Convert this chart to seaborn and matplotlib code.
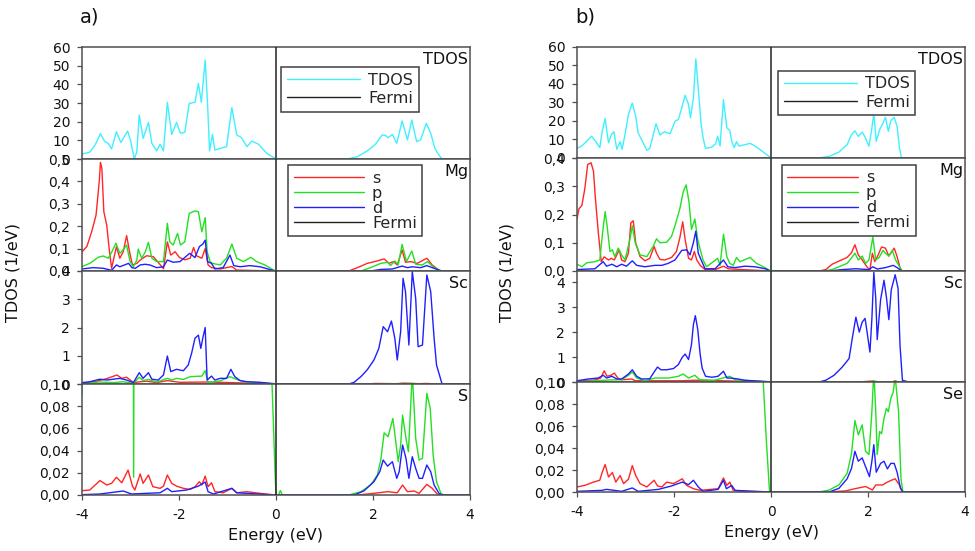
import matplotlib
matplotlib.use("Agg")
import matplotlib.pyplot as plt
import seaborn as sns
import pandas as pd
from matplotlib.lines import Line2D

# ---------------- data: (energy eV, DOS) pairs ----------------
# Panel a)
A_TDOS = [(-4.00,2.7),(-3.84,3.6),(-3.73,7.5),(-3.62,13.6),(-3.53,9.3),(-3.46,8.4),(-3.39,5.4),(-3.29,14.6),
          (-3.20,8.8),(-3.06,15.0),(-3.00,10.0),(-2.92,0.0),(-2.87,3.9),(-2.82,23.6),(-2.74,11.0),(-2.63,19.6),
          (-2.56,8.4),(-2.46,4.3),(-2.39,7.9),(-2.32,4.3),(-2.24,30.4),(-2.15,13.2),(-2.05,19.6),(-1.97,13.8),
          (-1.88,14.3),(-1.79,29.8),(-1.67,30.4),(-1.60,40.5),(-1.54,30.4),(-1.46,53.0),(-1.41,29.0),(-1.37,4.3),
          (-1.31,13.2),(-1.26,4.8),(-1.15,5.7),(-1.02,6.6),(-0.91,27.5),(-0.81,12.9),(-0.71,11.4),(-0.60,6.6),
          (-0.50,9.6),(-0.36,7.9),(-0.19,3.0),(-0.02,0.4),(0.00,0.0),
          (1.47,0.0),(1.68,1.25),(1.88,4.3),(2.05,7.9),(2.19,12.9),(2.26,12.6),(2.31,11.4),(2.40,13.2),(2.49,8.4),
          (2.60,20.4),(2.71,10.2),(2.80,20.9),(2.90,9.3),(2.98,10.2),(3.10,19.1),(3.19,13.8),(3.28,5.4),(3.36,2.1),
          (3.43,0.0),(4.00,0.0)]
A_MG_S = [(-4.00,0.086),(-3.90,0.109),(-3.80,0.176),(-3.71,0.25),(-3.64,0.41),(-3.62,0.485),(-3.59,0.458),
          (-3.55,0.265),(-3.49,0.205),(-3.44,0.10),(-3.39,0.012),(-3.32,0.08),(-3.29,0.108),(-3.22,0.057),
          (-3.15,0.086),(-3.08,0.158),(-3.02,0.086),(-2.96,0.027),(-2.87,0.034),(-2.80,0.049),(-2.67,0.068),
          (-2.53,0.064),(-2.43,0.039),(-2.32,0.010),(-2.24,0.13),(-2.17,0.071),(-2.08,0.086),(-1.99,0.06),
          (-1.88,0.05),(-1.77,0.057),(-1.70,0.105),(-1.64,0.068),(-1.53,0.057),(-1.46,0.10),(-1.40,0.027),
          (-1.33,0.015),(-1.15,0.009),(-1.02,0.015),(-0.91,0.02),(-0.81,0.004),(-0.02,0.0),(0.00,0.0),
          (1.50,0.0),(1.68,0.015),(1.88,0.034),(2.09,0.045),(2.23,0.054),(2.33,0.034),(2.42,0.042),(2.50,0.027),
          (2.60,0.094),(2.67,0.039),(2.78,0.042),(2.91,0.034),(3.11,0.057),(3.22,0.027),(3.36,0.004),(3.43,0.0),
          (4.00,0.0)]
A_MG_P = [(-4.00,0.02),(-3.84,0.034),(-3.66,0.062),(-3.56,0.067),(-3.46,0.057),(-3.39,0.083),(-3.30,0.124),
          (-3.22,0.079),(-3.15,0.095),(-3.08,0.116),(-3.01,0.042),(-2.94,0.019),(-2.87,0.049),(-2.84,0.098),
          (-2.77,0.057),(-2.70,0.083),(-2.63,0.128),(-2.56,0.057),(-2.46,0.042),(-2.32,0.042),(-2.24,0.213),
          (-2.19,0.13),(-2.12,0.116),(-2.03,0.168),(-1.97,0.116),(-1.88,0.13),(-1.79,0.257),(-1.67,0.268),
          (-1.60,0.265),(-1.53,0.175),(-1.46,0.238),(-1.42,0.086),(-1.36,0.042),(-1.31,0.034),(-1.15,0.027),
          (-1.02,0.057),(-0.91,0.12),(-0.81,0.057),(-0.67,0.042),(-0.52,0.061),(-0.40,0.042),(-0.23,0.027),
          (-0.02,0.001),(0.00,0.0),
          (1.75,0.0),(1.95,0.015),(2.16,0.034),(2.30,0.039),(2.36,0.024),(2.45,0.045),(2.52,0.027),(2.60,0.119),
          (2.69,0.042),(2.80,0.089),(2.88,0.030),(3.02,0.027),(3.12,0.042),(3.24,0.019),(3.40,0.001),(4.00,0.0)]
A_MG_D = [(-4.00,0.009),(-3.77,0.015),(-3.56,0.012),(-3.39,0.003),(-3.29,0.027),(-3.22,0.019),(-3.04,0.034),
          (-2.97,0.015),(-2.90,0.012),(-2.80,0.027),(-2.70,0.030),(-2.60,0.027),(-2.46,0.015),(-2.32,0.019),
          (-2.24,0.049),(-2.12,0.039),(-1.98,0.042),(-1.78,0.079),(-1.67,0.06),(-1.58,0.109),(-1.51,0.12),
          (-1.46,0.138),(-1.41,0.042),(-1.33,0.034),(-1.26,0.009),(-1.09,0.015),(-0.95,0.071),(-0.87,0.024),
          (-0.74,0.019),(-0.54,0.024),(-0.33,0.019),(-0.02,0.0),(0.00,0.0),
          (1.95,0.0),(2.16,0.007),(2.40,0.009),(2.60,0.022),(2.71,0.015),(2.81,0.019),(2.98,0.015),(3.11,0.024),
          (3.26,0.012),(3.40,0.0),(4.00,0.0)]
A_SC_S = [(-4.00,0.02),(-3.70,0.10),(-3.49,0.19),(-3.28,0.32),(-3.18,0.20),(-3.08,0.24),(-2.94,0.05),(-2.80,0.08),
          (-2.67,0.10),(-2.46,0.05),(-2.24,0.12),(-1.98,0.06),(-1.42,0.07),(-0.95,0.05),(-0.02,0.0),(0.00,0.0),
          (1.90,0.0),(2.05,0.02),(2.50,0.01),(2.62,0.03),(2.95,0.01),(3.10,0.02),(3.30,0.0),(4.00,0.0)]
A_SC_P = [(-4.00,0.02),(-3.63,0.07),(-3.35,0.05),(-3.15,0.08),(-2.94,0.02),(-2.82,0.24),(-2.74,0.12),(-2.63,0.16),
          (-2.46,0.07),(-2.24,0.20),(-2.15,0.14),(-2.05,0.20),(-1.91,0.16),(-1.77,0.26),(-1.53,0.28),(-1.46,0.47),
          (-1.40,0.05),(-1.15,0.11),(-0.95,0.26),(-0.81,0.16),(-0.67,0.09),(-0.02,0.0),(0.00,0.0),
          (2.00,0.0),(2.80,0.02),(3.00,0.0),(4.00,0.0)]
A_SC_D = [(-4.00,0.05),(-3.84,0.08),(-3.63,0.17),(-3.49,0.14),(-3.35,0.17),(-3.22,0.20),(-3.08,0.14),(-2.94,0.05),
          (-2.82,0.40),(-2.74,0.20),(-2.63,0.40),(-2.56,0.17),(-2.43,0.14),(-2.32,0.32),(-2.24,0.99),(-2.17,0.44),
          (-2.05,0.52),(-1.91,0.47),(-1.81,0.67),(-1.74,1.09),(-1.67,1.62),(-1.60,1.73),(-1.55,1.26),(-1.51,1.62),
          (-1.46,2.00),(-1.42,0.14),(-1.33,0.28),(-1.26,0.14),(-1.15,0.20),(-1.02,0.20),(-0.93,0.52),(-0.85,0.26),
          (-0.74,0.12),(-0.60,0.08),(-0.33,0.06),(-0.02,0.01),(0.00,0.0),
          (1.50,0.0),(1.61,0.06),(1.75,0.26),(1.88,0.50),(2.02,0.85),(2.12,1.26),(2.21,2.03),(2.30,1.85),(2.38,2.23),
          (2.45,1.62),(2.50,0.85),(2.57,1.85),(2.62,3.74),(2.67,3.27),(2.74,1.38),(2.81,3.98),(2.88,3.03),(2.93,1.32),
          (3.02,1.38),(3.11,3.86),(3.19,3.27),(3.26,1.62),(3.31,0.67),(3.38,0.26),(3.42,0.02),(3.46,0.0),(4.00,0.0)]
A_X_S = [(-4.00,0.0039),(-3.84,0.0045),(-3.63,0.013),(-3.49,0.009),(-3.39,0.0105),(-3.29,0.016),(-3.18,0.011),
         (-3.05,0.0225),(-2.96,0.008),(-2.91,0.0045),(-2.80,0.019),(-2.74,0.0105),(-2.63,0.018),(-2.54,0.0075),
         (-2.39,0.006),(-2.32,0.008),(-2.24,0.018),(-2.15,0.0105),(-2.05,0.008),(-1.91,0.006),(-1.77,0.005),
         (-1.67,0.0075),(-1.58,0.012),(-1.53,0.009),(-1.46,0.017),(-1.40,0.0075),(-1.33,0.011),(-1.26,0.003),
         (-1.09,0.002),(-0.91,0.006),(-0.81,0.002),(-0.60,0.003),(-0.33,0.0015),(-0.02,0.0),(0.00,0.0),
         (1.68,0.0),(2.02,0.0015),(2.30,0.003),(2.50,0.002),(2.61,0.009),(2.71,0.003),(2.85,0.0036),(2.95,0.0015),
         (3.11,0.0096),(3.22,0.006),(3.33,0.0006),(3.40,0.0),(4.00,0.0)]
A_X_P = [(-4.00,0.09),(-3.98,0.30),(-2.95,0.30),(-2.935,0.016),(-2.92,0.30),(-0.12,0.30),(-0.09,0.11),(-0.05,0.06),
         (-0.02,0.02),(0.00,0.0),(0.05,0.0),(0.09,0.004),(0.13,0.0),
         (1.50,0.0),(1.75,0.003),(1.95,0.009),(2.09,0.018),(2.16,0.0315),(2.23,0.056),(2.31,0.0525),(2.41,0.069),
         (2.47,0.048),(2.52,0.030),(2.57,0.045),(2.61,0.072),(2.68,0.051),(2.73,0.039),(2.81,0.11),(2.88,0.051),
         (2.95,0.0315),(3.02,0.033),(3.11,0.0916),(3.18,0.078),(3.24,0.036),(3.31,0.012),(3.40,0.0015),(3.46,0.0),
         (4.00,0.0)]
A_X_D = [(-4.00,0.0003),(-3.63,0.0009),(-3.15,0.0036),(-2.98,0.0009),(-2.67,0.0015),(-2.39,0.002),(-2.24,0.006),
         (-2.15,0.003),(-1.84,0.0045),(-1.60,0.008),(-1.46,0.0117),(-1.40,0.003),(-1.29,0.0009),(-0.91,0.006),
         (-0.81,0.002),(-0.02,0.0),(0.00,0.0),
         (1.61,0.0),(1.81,0.0036),(2.02,0.012),(2.14,0.021),(2.21,0.0315),(2.30,0.026),(2.40,0.030),(2.49,0.015),
         (2.54,0.021),(2.61,0.045),(2.68,0.033),(2.74,0.015),(2.81,0.0345),(2.88,0.024),(2.95,0.015),(3.02,0.015),
         (3.11,0.027),(3.19,0.021),(3.26,0.009),(3.36,0.0015),(3.43,0.0),(4.00,0.0)]

# Panel b)
B_TDOS = [(-4.00,5.2),(-3.90,6.5),(-3.80,9.1),(-3.70,11.8),(-3.62,9.1),(-3.53,5.6),(-3.48,14.5),(-3.42,21.3),
          (-3.35,8.2),(-3.29,12.7),(-3.24,14.2),(-3.18,4.7),(-3.11,8.8),(-3.07,4.7),(-3.01,12.7),(-2.94,23.5),
          (-2.86,29.7),(-2.79,22.6),(-2.74,13.6),(-2.67,10.0),(-2.56,4.1),(-2.50,5.2),(-2.37,18.5),(-2.29,12.4),
          (-2.20,14.2),(-2.08,13.1),(-1.98,19.9),(-1.91,20.8),(-1.84,27.1),(-1.77,33.9),(-1.70,28.9),(-1.66,21.7),
          (-1.60,32.4),(-1.55,53.6),(-1.50,37.8),(-1.44,18.1),(-1.40,10.9),(-1.35,5.2),(-1.22,5.9),(-1.14,7.7),
          (-1.10,11.8),(-1.05,6.5),(-0.98,31.5),(-0.91,16.3),(-0.85,14.9),(-0.81,9.1),(-0.76,5.6),(-0.71,8.8),
          (-0.66,6.5),(-0.57,7.0),(-0.43,7.9),(-0.33,6.5),(-0.19,3.8),(-0.02,0.5),(0.00,0.0),
          (0.99,0.0),(1.20,0.9),(1.40,3.2),(1.57,7.2),(1.66,12.6),(1.73,14.7),(1.80,11.7),(1.88,14.0),(1.95,10.8),
          (2.02,6.3),(2.08,16.2),(2.12,24.0),(2.17,9.0),(2.24,15.3),(2.31,18.9),(2.36,22.0),(2.42,14.4),(2.47,20.1),
          (2.54,22.0),(2.60,17.0),(2.65,5.4),(2.69,0.0),(4.00,0.0)]
B_MG_S = [(-4.00,0.184),(-3.96,0.22),(-3.90,0.232),(-3.84,0.29),(-3.78,0.377),(-3.71,0.383),(-3.66,0.353),
          (-3.62,0.256),(-3.56,0.135),(-3.50,0.033),(-3.44,0.05),(-3.35,0.039),(-3.29,0.045),(-3.23,0.039),
          (-3.13,0.075),(-3.08,0.039),(-3.01,0.033),(-2.94,0.063),(-2.89,0.17),(-2.84,0.178),(-2.79,0.10),
          (-2.70,0.051),(-2.60,0.036),(-2.50,0.045),(-2.41,0.087),(-2.36,0.063),(-2.29,0.041),(-2.19,0.039),
          (-2.05,0.048),(-1.95,0.069),(-1.88,0.117),(-1.82,0.174),(-1.77,0.111),(-1.70,0.045),(-1.64,0.039),
          (-1.58,0.069),(-1.53,0.039),(-1.46,0.02),(-1.36,0.005),(-1.15,0.005),(-0.98,0.017),(-0.88,0.008),
          (-0.60,0.005),(-0.02,0.0),(0.00,0.0),
          (0.99,0.0),(1.13,0.005),(1.26,0.024),(1.40,0.035),(1.57,0.048),(1.66,0.065),(1.73,0.093),(1.80,0.057),
          (1.88,0.039),(1.99,0.012),(2.04,0.005),(2.09,0.063),(2.14,0.033),(2.21,0.057),(2.28,0.085),(2.36,0.081),
          (2.43,0.053),(2.54,0.081),(2.60,0.051),(2.67,0.005),(2.71,0.0),(4.00,0.0)]
B_MG_P = [(-4.00,0.024),(-3.90,0.015),(-3.80,0.029),(-3.63,0.033),(-3.53,0.039),(-3.48,0.123),(-3.42,0.21),
          (-3.38,0.16),(-3.32,0.069),(-3.27,0.075),(-3.22,0.05),(-3.15,0.081),(-3.08,0.057),(-3.01,0.039),
          (-2.91,0.111),(-2.86,0.16),(-2.80,0.10),(-2.70,0.057),(-2.56,0.051),(-2.43,0.087),(-2.36,0.114),
          (-2.29,0.10),(-2.15,0.102),(-2.05,0.123),(-1.98,0.16),(-1.88,0.22),(-1.81,0.28),(-1.75,0.305),
          (-1.69,0.244),(-1.64,0.147),(-1.57,0.184),(-1.51,0.111),(-1.44,0.063),(-1.40,0.039),(-1.33,0.015),
          (-1.19,0.033),(-1.10,0.045),(-1.05,0.02),(-0.98,0.13),(-0.91,0.05),(-0.85,0.027),(-0.78,0.02),
          (-0.71,0.048),(-0.64,0.033),(-0.43,0.048),(-0.30,0.027),(-0.16,0.015),(-0.02,0.002),(0.00,0.0),
          (1.09,0.0),(1.26,0.005),(1.40,0.015),(1.57,0.027),(1.68,0.051),(1.73,0.063),(1.80,0.039),(1.88,0.053),
          (1.95,0.027),(2.02,0.039),(2.10,0.12),(2.16,0.039),(2.23,0.048),(2.31,0.073),(2.36,0.063),(2.43,0.053),
          (2.50,0.073),(2.57,0.039),(2.65,0.015),(2.71,0.0),(4.00,0.0)]
B_MG_D = [(-4.00,0.005),(-3.63,0.008),(-3.46,0.033),(-3.39,0.017),(-3.28,0.024),(-3.18,0.015),(-3.08,0.024),
          (-2.98,0.017),(-2.86,0.036),(-2.77,0.02),(-2.60,0.015),(-2.39,0.02),(-2.25,0.02),(-2.12,0.027),
          (-1.98,0.039),(-1.84,0.073),(-1.74,0.075),(-1.67,0.057),(-1.60,0.10),(-1.55,0.141),(-1.50,0.063),
          (-1.44,0.039),(-1.36,0.008),(-1.15,0.008),(-0.98,0.039),(-0.89,0.015),(-0.74,0.012),(-0.54,0.017),
          (-0.33,0.015),(-0.12,0.008),(-0.02,0.0),(0.00,0.0),
          (1.20,0.0),(1.47,0.005),(1.75,0.008),(2.02,0.005),(2.10,0.015),(2.19,0.007),(2.36,0.012),(2.52,0.02),
          (2.60,0.012),(2.69,0.0),(4.00,0.0)]
B_SC_S = [(-4.00,0.03),(-3.63,0.08),(-3.51,0.16),(-3.44,0.45),(-3.38,0.23),(-3.30,0.27),(-3.23,0.36),(-3.16,0.16),
          (-3.08,0.09),(-2.87,0.12),(-2.80,0.05),(-2.32,0.05),(-1.84,0.05),(-1.56,0.07),(-1.02,0.05),(-0.02,0.0),
          (0.00,0.0),(1.80,0.0),(2.10,0.04),(2.20,0.0),(2.50,0.0),(2.56,0.05),(2.62,0.0),(4.00,0.0)]
B_SC_P = [(-4.00,0.01),(-3.63,0.05),(-3.35,0.08),(-3.08,0.09),(-2.94,0.27),(-2.86,0.40),(-2.77,0.16),(-2.60,0.05),
          (-2.39,0.16),(-2.11,0.16),(-1.91,0.23),(-1.81,0.32),(-1.70,0.16),(-1.57,0.27),(-1.47,0.09),(-1.17,0.07),
          (-0.85,0.23),(-0.74,0.09),(-0.02,0.0),(0.00,0.0),(2.00,0.0),(2.12,0.03),(2.30,0.0),(4.00,0.0)]
B_SC_D = [(-4.00,0.05),(-3.77,0.12),(-3.56,0.16),(-3.46,0.27),(-3.39,0.16),(-3.28,0.23),(-3.18,0.12),(-3.08,0.12),
          (-2.94,0.32),(-2.86,0.49),(-2.77,0.23),(-2.67,0.12),(-2.50,0.13),(-2.41,0.40),(-2.34,0.60),(-2.27,0.49),
          (-2.15,0.49),(-2.01,0.54),(-1.91,0.70),(-1.83,0.99),(-1.77,1.12),(-1.70,0.90),(-1.64,1.50),(-1.60,2.30),
          (-1.56,2.66),(-1.51,2.10),(-1.46,1.10),(-1.42,0.56),(-1.35,0.23),(-1.22,0.19),(-1.09,0.23),(-0.98,0.43),
          (-0.91,0.16),(-0.85,0.16),(-0.71,0.13),(-0.54,0.07),(-0.02,0.01),(0.00,0.0),
          (0.99,0.0),(1.13,0.07),(1.30,0.27),(1.47,0.60),(1.61,0.94),(1.68,1.80),(1.75,2.60),(1.82,2.00),(1.88,2.40),
          (1.94,2.55),(2.04,1.20),(2.08,2.54),(2.12,4.40),(2.16,3.34),(2.19,1.70),(2.26,3.30),(2.33,4.08),(2.38,3.40),
          (2.43,2.50),(2.48,3.70),(2.56,4.30),(2.62,3.75),(2.66,1.47),(2.71,0.07),(2.78,0.03),(2.85,0.0),(4.00,0.0)]
B_X_S = [(-4.00,0.0046),(-3.84,0.006),(-3.66,0.009),(-3.53,0.0107),(-3.48,0.018),(-3.42,0.025),(-3.35,0.0137),
         (-3.27,0.0177),(-3.20,0.009),(-3.11,0.015),(-3.04,0.0076),(-2.94,0.0116),(-2.86,0.024),(-2.79,0.015),
         (-2.70,0.0076),(-2.56,0.0046),(-2.41,0.0107),(-2.34,0.0055),(-2.25,0.0046),(-2.15,0.009),(-2.01,0.0076),
         (-1.83,0.012),(-1.74,0.006),(-1.60,0.003),(-1.46,0.0015),(-1.09,0.003),(-0.98,0.0128),(-0.91,0.006),
         (-0.85,0.009),(-0.78,0.0015),(-0.60,0.0006),(-0.02,0.0),(0.00,0.0),
         (1.20,0.0),(1.54,0.001),(1.73,0.003),(1.95,0.005),(2.09,0.0018),(2.16,0.0064),(2.30,0.0064),(2.40,0.009),
         (2.50,0.011),(2.56,0.012),(2.64,0.007),(2.71,0.0),(4.00,0.0)]
B_X_P = [(-4.00,0.30),(-0.20,0.30),(-0.16,0.10),(-0.10,0.05),(-0.03,0.0),(0.00,0.0),
         (0.99,0.0),(1.20,0.0018),(1.40,0.0064),(1.57,0.017),(1.66,0.035),(1.73,0.065),(1.80,0.052),(1.88,0.061),
         (1.95,0.037),(2.02,0.034),(2.08,0.073),(2.12,0.11),(2.16,0.073),(2.19,0.034),(2.24,0.055),(2.28,0.053),
         (2.33,0.067),(2.38,0.076),(2.42,0.073),(2.47,0.085),(2.52,0.091),(2.56,0.105),(2.63,0.073),(2.68,0.012),
         (2.72,0.0),(4.00,0.0)]
B_X_D = [(-4.00,0.0006),(-3.49,0.0015),(-3.39,0.0024),(-3.08,0.0006),(-2.86,0.0037),(-2.74,0.0006),(-2.32,0.0024),
         (-2.05,0.0055),(-1.83,0.009),(-1.70,0.0067),(-1.60,0.0107),(-1.50,0.0046),(-1.40,0.0006),(-1.09,0.0024),
         (-0.98,0.0107),(-0.92,0.003),(-0.81,0.006),(-0.74,0.0015),(-0.02,0.0),(0.00,0.0),
         (1.20,0.0),(1.40,0.0033),(1.57,0.012),(1.66,0.0215),(1.73,0.037),(1.80,0.028),(1.88,0.031),(1.95,0.023),
         (2.03,0.014),(2.08,0.028),(2.12,0.043),(2.17,0.018),(2.26,0.026),(2.33,0.028),(2.40,0.021),(2.47,0.026),
         (2.54,0.026),(2.60,0.018),(2.67,0.0033),(2.72,0.0),(4.00,0.0)]

PANEL_A_SITES = ["TDOS", "Mg", "Sc", "S"]
PANEL_B_SITES = ["TDOS", "Mg", "Sc", "Se"]
TDOS_TICKS = [0, 10, 20, 30, 40, 50, 60]
MG_A_TICKS = [0.0, 0.1, 0.2, 0.3, 0.4, 0.5]
MG_B_TICKS = [0.0, 0.1, 0.2, 0.3, 0.4]
SC_TICKS = [0, 1, 2, 3, 4]
X_TICKS_PDOS = [0.00, 0.02, 0.04, 0.06, 0.08, 0.10]
E_TICKS = [-4, -2, 0, 2, 4]

# ---------------- style ----------------
sns.set_theme(style="ticks")
plt.rcParams['font.family'] = ['DejaVu Sans']
plt.rcParams['axes.unicode_minus'] = False

COL = {"TDOS": "#3ff0ff", "s": "#ff2626", "p": "#22e022", "d": "#2020ff", "Fermi": "#222222"}
SPINE = "#505050"
TICK_FS = 10
LW = 1.0

W, H = 975, 551
fig = plt.figure(figsize=(W / 100, H / 100), dpi=100)


def rect(x0, x1, ytop, ybot):
    return [x0 / W, 1 - ybot / H, (x1 - x0) / W, (ybot - ytop) / H]


def fmt(v, d):
    return f"{v:.{d}f}".replace(".", ",")


def draw(ax, series, ylim, ticks, decimals, name, legend=None, bottom=False):
    for key, pairs in series:
        df = pd.DataFrame(pairs, columns=["E", "DOS"])
        sns.lineplot(data=df, x="E", y="DOS", ax=ax, color=COL[key], lw=LW,
                     estimator=None, sort=False, legend=False)
    ax.axvline(0, color=COL["Fermi"], lw=1.1, zorder=3)
    ax.set_xlim(-4, 4)
    ax.set_ylim(*ylim)
    ax.set_yticks(ticks)
    ax.set_yticklabels([fmt(t, decimals) for t in ticks])
    ax.set_xlabel("")
    ax.set_ylabel("")
    for sp in ax.spines.values():
        sp.set_visible(True)
        sp.set_color(SPINE)
        sp.set_linewidth(1.1)
    ax.tick_params(axis="y", direction="out", length=3.5, width=0.9, color=SPINE,
                   labelsize=TICK_FS, pad=5, labelcolor="#111111")
    if bottom:
        ax.set_xticks(E_TICKS)
        ax.set_xticklabels([str(t) for t in E_TICKS])
        ax.tick_params(axis="x", direction="out", length=3.5, width=0.9, color=SPINE,
                       labelsize=TICK_FS, pad=6, labelcolor="#111111")
    else:
        ax.set_xticks([])
    ax.text(0.995, 0.955, name, transform=ax.transAxes, ha="right", va="top",
            fontsize=11.5, color="#111111")
    if legend is not None:
        labels, anchor, spacing, hl = legend
        handles = [Line2D([0, 1], [0, 0], color=COL[l], lw=1.0) for l in labels]
        leg = ax.legend(handles, labels, loc="upper left", bbox_to_anchor=anchor, borderaxespad=0,
                        fontsize=11.5, handlelength=hl, handletextpad=0.5, borderpad=0.35,
                        labelspacing=spacing, frameon=True, fancybox=False, framealpha=1)
        leg.get_frame().set_edgecolor("#404040")
        leg.get_frame().set_linewidth(1.1)
        leg.set_zorder(10)


panels = [
    dict(x0=82, x1=470, ys=[47, 159, 271, 384, 495], sites=PANEL_A_SITES, tag="a)", tagx=80, ylx=13,
         data=[[("TDOS", A_TDOS)],
               [("s", A_MG_S), ("p", A_MG_P), ("d", A_MG_D)],
               [("s", A_SC_S), ("p", A_SC_P), ("d", A_SC_D)],
               [("s", A_X_S), ("p", A_X_P), ("d", A_X_D)]],
         lims=[(0, 60), (0, 0.5), (0, 4), (0, 0.10)],
         ticks=[(TDOS_TICKS, 0), (MG_A_TICKS, 1), (SC_TICKS, 0), (X_TICKS_PDOS, 2)],
         legs=[(["TDOS", "Fermi"], (0.513, 0.82), 0.2, 4.6), (["s", "p", "d", "Fermi"], (0.531, 0.945), 0.0, 4.4)]),
    dict(x0=577, x1=965, ys=[47, 158, 271, 382, 492], sites=PANEL_B_SITES, tag="b)", tagx=575, ylx=507,
         data=[[("TDOS", B_TDOS)],
               [("s", B_MG_S), ("p", B_MG_P), ("d", B_MG_D)],
               [("s", B_SC_S), ("p", B_SC_P), ("d", B_SC_D)],
               [("s", B_X_S), ("p", B_X_P), ("d", B_X_D)]],
         lims=[(0, 60), (0, 0.4), (0, 4.45), (0, 0.10)],
         ticks=[(TDOS_TICKS, 0), (MG_B_TICKS, 1), (SC_TICKS, 0), (X_TICKS_PDOS, 2)],
         legs=[(["TDOS", "Fermi"], (0.518, 0.785), 0.2, 4.6), (["s", "p", "d", "Fermi"], (0.528, 0.94), 0.0, 4.4)]),
]

for P in panels:
    for i in range(4):
        ax = fig.add_axes(rect(P["x0"], P["x1"], P["ys"][i], P["ys"][i + 1]))
        leg = P["legs"][i] if i < 2 else None
        draw(ax, P["data"][i], P["lims"][i], P["ticks"][i][0], P["ticks"][i][1], P["sites"][i],
             legend=leg, bottom=(i == 3))
        if i == 3:
            ax.set_xlabel("Energy (eV)", fontsize=11.5, labelpad=4, color="#111111")
    fig.text(P["tagx"] / W, 1 - 17 / H, P["tag"], fontsize=14, ha="left", va="center", color="#111111")
    fig.text(P["ylx"] / W, 1 - 272 / H, "TDOS (1/eV)", rotation=90, fontsize=11.5,
             ha="center", va="center", color="#111111")

fig.savefig("out.png", dpi=100)
